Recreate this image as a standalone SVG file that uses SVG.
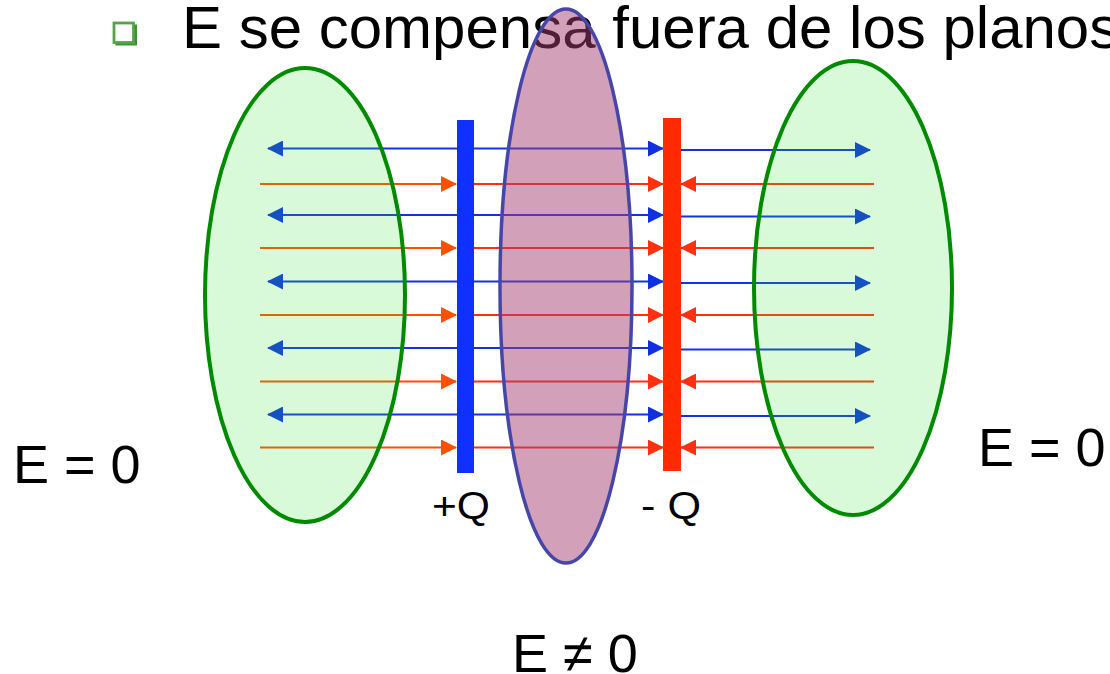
<svg xmlns="http://www.w3.org/2000/svg" width="1110" height="674" viewBox="0 0 1110 674">
<style>
text{font-family:"Liberation Sans",Arial,sans-serif;fill:#000}
.bl{stroke:#1532e0;stroke-width:2;fill:none}
.or{stroke:#ff4d00;stroke-width:2;fill:none}
.rd{stroke:#ff3010;stroke-width:2;fill:none}
.gz{fill:#32e632;fill-opacity:0.19;stroke:#008a00;stroke-width:4}
.pz{fill:#a53e73;fill-opacity:0.49;stroke:#4646aa;stroke-width:3.5}
</style>
<defs>
<marker id="ab" viewBox="0 0 16 16" refX="15" refY="8" markerWidth="16" markerHeight="16" markerUnits="userSpaceOnUse" orient="auto-start-reverse"><path d="M0,0 L16,8 L0,16 z" fill="#1030e0"/></marker>
<marker id="ao" viewBox="0 0 16 16" refX="15" refY="8" markerWidth="16" markerHeight="16" markerUnits="userSpaceOnUse" orient="auto"><path d="M0,0 L16,8 L0,16 z" fill="#ff5000"/></marker>
<marker id="ar" viewBox="0 0 16 16" refX="15" refY="8" markerWidth="16" markerHeight="16" markerUnits="userSpaceOnUse" orient="auto"><path d="M0,0 L16,8 L0,16 z" fill="#ff3010"/></marker>
</defs>
<rect width="1110" height="674" fill="#fff"/>
<g id="title">
<rect x="115.5" y="24.5" width="21.5" height="21" fill="#3f8f3a"/>
<rect x="114" y="23" width="19.5" height="19.5" fill="#fff" stroke="#55a548" stroke-width="2.8"/>
<text x="182" y="48" font-size="60">E se compensa fuera de los planos</text>
</g>
<g id="connectors">
<path class="bl" d="M268,148.5 H663" marker-start="url(#ab)" marker-end="url(#ab)"/>
<path class="bl" d="M268,215 H663" marker-start="url(#ab)" marker-end="url(#ab)"/>
<path class="bl" d="M268,281.5 H663" marker-start="url(#ab)" marker-end="url(#ab)"/>
<path class="bl" d="M268,348 H663" marker-start="url(#ab)" marker-end="url(#ab)"/>
<path class="bl" d="M268,414.5 H663" marker-start="url(#ab)" marker-end="url(#ab)"/>
<path class="bl" d="M675,150 H870" marker-end="url(#ab)"/>
<path class="bl" d="M675,216.5 H870" marker-end="url(#ab)"/>
<path class="bl" d="M675,283 H870" marker-end="url(#ab)"/>
<path class="bl" d="M675,349.5 H870" marker-end="url(#ab)"/>
<path class="bl" d="M675,416 H870" marker-end="url(#ab)"/>
<path class="or" d="M260,184 H456" marker-end="url(#ao)"/>
<path class="or" d="M260,248 H456" marker-end="url(#ao)"/>
<path class="or" d="M260,315 H456" marker-end="url(#ao)"/>
<path class="or" d="M260,381.5 H456" marker-end="url(#ao)"/>
<path class="or" d="M260,447.5 H456" marker-end="url(#ao)"/>
<path class="rd" d="M474,184 H663" marker-end="url(#ar)"/>
<path class="rd" d="M474,248 H663" marker-end="url(#ar)"/>
<path class="rd" d="M474,315 H663" marker-end="url(#ar)"/>
<path class="rd" d="M474,381.5 H663" marker-end="url(#ar)"/>
<path class="rd" d="M474,447.5 H663" marker-end="url(#ar)"/>
<path class="rd" d="M874,184 H681" marker-end="url(#ar)"/>
<path class="rd" d="M874,248 H681" marker-end="url(#ar)"/>
<path class="rd" d="M874,315 H681" marker-end="url(#ar)"/>
<path class="rd" d="M874,381.5 H681" marker-end="url(#ar)"/>
<path class="rd" d="M874,447.5 H681" marker-end="url(#ar)"/>
</g>
<g id="plate-pos">
<rect x="457" y="120" width="17" height="353" fill="#1030ff"/>
<text x="432" y="519" font-size="38" textLength="58" lengthAdjust="spacingAndGlyphs">+Q</text>
</g>
<g id="plate-neg">
<rect x="663" y="118" width="18" height="353" fill="#ff2a00"/>
<text x="641" y="519" font-size="38" textLength="60" lengthAdjust="spacingAndGlyphs">- Q</text>
</g>
<g id="region-left">
<ellipse class="gz" cx="305" cy="295" rx="100" ry="227"/>
<text x="13" y="483" font-size="54">E = 0</text>
</g>
<g id="region-right">
<ellipse class="gz" cx="853" cy="288" rx="99" ry="227"/>
<text x="978" y="466" font-size="54">E = 0</text>
</g>
<g id="region-middle">
<ellipse class="pz" cx="566" cy="286" rx="66" ry="277"/>
<text x="512" y="672" font-size="54">E ≠ 0</text>
</g>
</svg>
